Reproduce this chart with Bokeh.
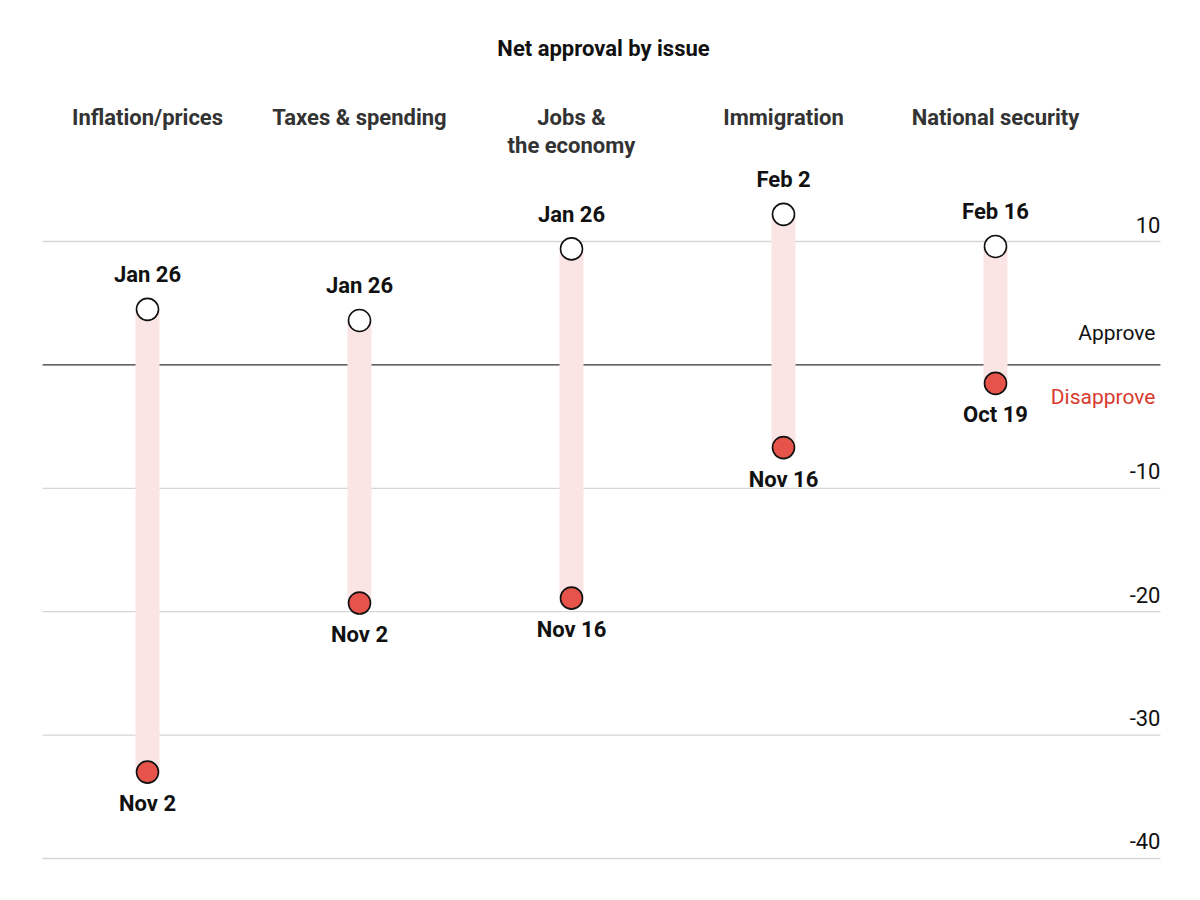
from bokeh.plotting import figure
from bokeh.models import ColumnDataSource, Range1d
from bokeh.embed import file_html
from bokeh.resources import INLINE
from bokeh.core.properties import value

# ---- data ----
issues = ["Inflation/prices", "Taxes & spending", "Jobs &\nthe economy", "Immigration", "National security"]
high_vals = [4.5, 3.6, 9.4, 12.2, 9.6]
high_dates = ["Jan 26", "Jan 26", "Jan 26", "Feb 2", "Feb 16"]
low_vals = [-33.0, -19.3, -18.9, -6.7, -1.5]
low_dates = ["Nov 2", "Nov 2", "Nov 16", "Nov 16", "Oct 19"]
grid_ticks = [10, 0, -10, -20, -30, -40]
tick_labels = ["10", "", "-10", "-20", "-30", "-40"]

FONT = "Roboto"
idx = list(range(len(issues)))

p = figure(width=1184, height=884, output_backend="svg", toolbar_location=None,
           x_range=Range1d(-0.6934, 4.8915), y_range=Range1d(-42.107, 29.53),
           min_border=0, min_border_left=0, min_border_right=0,
           min_border_top=0, min_border_bottom=0)
p.axis.visible = False
p.grid.visible = False
p.outline_line_color = None
p.background_fill_color = "white"
p.border_fill_color = "white"

# gridlines
g_src = ColumnDataSource(dict(
    x0=[-0.495] * len(grid_ticks), x1=[4.778] * len(grid_ticks), y=grid_ticks,
    color=["#d6d6d6" if t != 0 else "#333333" for t in grid_ticks],
    lab=tick_labels))
p.segment(x0="x0", y0="y", x1="x1", y1="y", line_color="color", line_width=1.3, source=g_src)
p.text(x="x1", y="y", text="lab", source=g_src, text_align="right", text_baseline="bottom",
       x_offset=0, y_offset=-9, text_font=value(FONT), text_font_size="22px", text_color="#111111")

# range bars
src = ColumnDataSource(dict(x=idx, hi=high_vals, lo=low_vals, hd=high_dates, ld=low_dates, name=issues))
p.segment(x0="x", y0="hi", x1="x", y1="lo", source=src, line_color="#fbe4e4", line_width=24)

# points
p.scatter(x="x", y="hi", source=src, size=22, fill_color="white", line_color="#111111", line_width=1.6)
p.scatter(x="x", y="lo", source=src, size=22, fill_color="#e5534b", line_color="#111111", line_width=1.6)

# date labels
p.text(x="x", y="hi", text="hd", source=src, text_align="center", text_baseline="bottom",
       y_offset=-22, text_font=value(FONT), text_font_style="bold", text_font_size="22px", text_color="#111111")
p.text(x="x", y="lo", text="ld", source=src, text_align="center", text_baseline="top",
       y_offset=19, text_font=value(FONT), text_font_style="bold", text_font_size="22px", text_color="#111111")

# issue headers
p.text(x="x", y=21.1, text="name", source=src, text_align="center", text_baseline="top",
       text_font=value(FONT), text_font_style="bold", text_font_size="22px", text_color="#333333",
       text_line_height=1.12)

# title
p.text(x=[2.151], y=[25.6], text=["Net approval by issue"],
       text_align="center", text_baseline="middle", text_font=value(FONT), text_font_style="bold",
       text_font_size="22px", text_color="#111111")

# approve / disapprove labels
p.text(x=[4.778], y=[0], text=["Approve"], text_align="right", text_baseline="bottom",
       x_offset=-5, y_offset=-20, text_font=value(FONT), text_font_size="21px", text_color="#111111")
p.text(x=[4.778], y=[0], text=["Disapprove"], text_align="right", text_baseline="top",
       x_offset=-5, y_offset=20, text_font=value(FONT), text_font_size="21px", text_color="#d63a2f")

open("out.html", "w").write(file_html(p, INLINE))
